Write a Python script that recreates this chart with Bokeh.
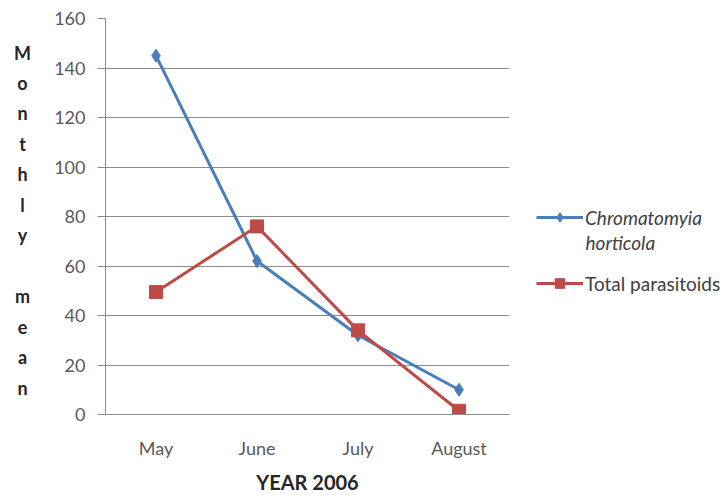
from bokeh.plotting import figure
from bokeh.layouts import row
from bokeh.models import (FactorRange, Range1d, FixedTicker, Label, Legend, LegendItem,
                          Arrow)
from bokeh.embed import file_html
from bokeh.resources import INLINE

months = ["May", "June", "July", "August"]
chromatomyia = [145, 62, 32, 10]
parasitoids = [49.5, 76, 34, 1.5]
y_ticks = [0, 20, 40, 60, 80, 100, 120, 140, 160]
ylabel_letters = ["M", "o", "n", "t", "h", "l", "y", "", "m", "e", "a", "n"]

FONT = "Lato"
BLUE = "#4A7EBB"
RED = "#BE4B48"
GRID = "#8C8C8C"
TXT = "#595959"
H = 499
TOP = 18
BOTTOM = 414
LEFT_W = 40
MAIN_W = 475
LEG_W = 728 - LEFT_W - MAIN_W


def blank(width):
    # frames of figures in a row are aligned with the main chart's frame,
    # so y data here equals the canvas pixel row
    f = figure(width=width, height=H, x_range=Range1d(0, width),
               y_range=Range1d(BOTTOM, TOP), output_backend="svg",
               toolbar_location=None, min_border=0, min_border_top=TOP,
               min_border_bottom=H - BOTTOM,
               x_axis_location=None, y_axis_location=None)
    f.grid.visible = False
    f.outline_line_color = None
    f.border_fill_color = "white"
    return f


# ---- left strip: stacked y-axis title ----
left = blank(LEFT_W)
first_row, last_row = 52, 387
step = (last_row - first_row) / (len(ylabel_letters) - 1)
for k, ch in enumerate(ylabel_letters):
    if ch:
        left.add_layout(Label(x=22, y=first_row + k * step, text=ch, text_font=FONT,
                              text_font_size="18px", text_font_style="bold",
                              text_color="#262626", text_align="center",
                              text_baseline="middle"))

# ---- main chart ----
p = figure(width=MAIN_W, height=H, x_range=FactorRange(*months, range_padding=0),
           y_range=Range1d(0, 160), output_backend="svg", toolbar_location=None,
           min_border_left=105 - LEFT_W, min_border_right=MAIN_W - (509 - LEFT_W),
           min_border_top=TOP, min_border_bottom=H - BOTTOM)
p.outline_line_color = None
p.background_fill_color = "white"
p.border_fill_color = "white"

p.xgrid.visible = False
p.ygrid.grid_line_color = GRID
p.ygrid.grid_line_width = 1
p.ygrid.ticker = FixedTicker(ticks=y_ticks)

ya = p.yaxis[0]
ya.ticker = FixedTicker(ticks=y_ticks)
ya.axis_line_color = GRID
ya.major_tick_line_color = GRID
ya.major_tick_out = 8
ya.major_tick_in = 0
ya.minor_tick_line_color = None
ya.major_label_standoff = 12
ya.major_label_text_font = FONT
ya.major_label_text_font_size = "18px"
ya.major_label_text_color = TXT

xa = p.xaxis[0]
xa.axis_line_color = GRID
xa.major_tick_line_color = None
xa.major_tick_out = 0
xa.major_label_text_font = FONT
xa.major_label_text_font_size = "18px"
xa.major_label_text_color = TXT
xa.major_label_standoff = 22
xa.axis_label = "YEAR 2006"
xa.axis_label_text_font = FONT
xa.axis_label_text_font_size = "20px"
xa.axis_label_text_font_style = "bold"
xa.axis_label_text_color = "#262626"
xa.axis_label_standoff = 8

for i in range(len(months) + 1):
    p.add_layout(Arrow(end=None, x_start=i, y_start=0, x_end=i, y_end=-2,
                       line_color=GRID, line_width=1))

p.line(months, chromatomyia, line_color=BLUE, line_width=3)
p.scatter(months, chromatomyia, marker="diamond", size=13, fill_color=BLUE,
          line_color=BLUE)
p.line(months, parasitoids, line_color=RED, line_width=3)
p.scatter(months, parasitoids, marker="square", size=13, fill_color=RED,
          line_color=RED)

# ---- legend strip ----
leg = blank(LEG_W)
off = [-1000, -999]
lb = leg.line(off, off, line_color=BLUE, line_width=3)
sb = leg.scatter(off, off, marker="diamond", size=10, fill_color=BLUE, line_color=BLUE)
lr = leg.line(off, off, line_color=RED, line_width=3)
sr = leg.scatter(off, off, marker="square", size=12, fill_color=RED, line_color=RED)

common = dict(border_line_color=None, background_fill_alpha=0, padding=0, margin=0,
              glyph_width=47, glyph_height=24, label_height=24, label_standoff=2,
              label_text_font=FONT, label_text_font_size="19px",
              label_text_color="#404040")
x0 = 536 - LEFT_W - MAIN_W
leg.add_layout(Legend(items=[LegendItem(label="Chromatomyia", renderers=[lb, sb])],
                      location=(x0, BOTTOM - 217 - 12), label_text_font_style="italic",
                      **common))
leg.add_layout(Legend(items=[LegendItem(label="Total parasitoids", renderers=[lr, sr])],
                      location=(x0, BOTTOM - 283 - 12), **common))
leg.add_layout(Label(x=x0 + 49, y=242, text="horticola", text_font=FONT,
                     text_font_size="19px", text_font_style="italic",
                     text_color="#404040", text_baseline="middle"))

layout = row(left, p, leg, spacing=0)
open("out.html", "w").write(file_html(layout, INLINE))
